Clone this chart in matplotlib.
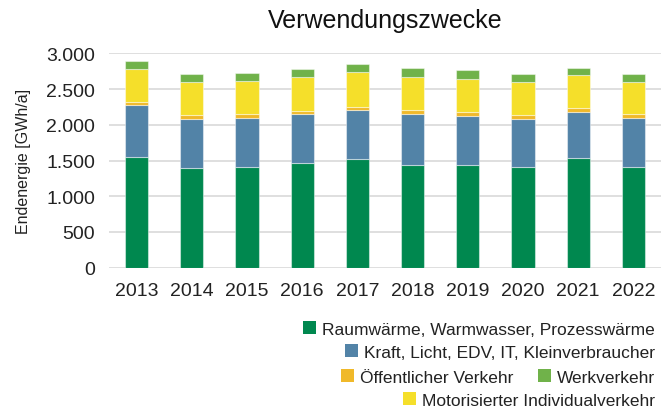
import matplotlib
matplotlib.use("Agg")
import matplotlib.pyplot as plt
import matplotlib.ticker as mticker
import numpy as np

plt.rcParams['font.family'] = ['Liberation Sans', 'DejaVu Sans']

years = ["2013", "2014", "2015", "2016", "2017", "2018", "2019", "2020", "2021", "2022"]
raumwaerme = [1553, 1399, 1413, 1469, 1516, 1441, 1441, 1413, 1530, 1413]
kraft = [718, 685, 685, 676, 694, 704, 676, 671, 648, 681]
oeffentlich = [51, 52, 47, 51, 42, 56, 56, 47, 51, 51]
motorisiert = [457, 457, 470, 475, 489, 470, 470, 470, 466, 456]
werkverkehr = [108, 120, 112, 108, 108, 118, 118, 104, 102, 112]

series = [
    ("Raumwärme, Warmwasser, Prozesswärme", raumwaerme, "#00884F"),
    ("Kraft, Licht, EDV, IT, Kleinverbraucher", kraft, "#5283A7"),
    ("Öffentlicher Verkehr", oeffentlich, "#F0B92A"),
    ("Motorisierter Individualverkehr", motorisiert, "#F5DF2A"),
    ("Werkverkehr", werkverkehr, "#70B24A"),
]

fig = plt.figure(figsize=(6.7, 4.1), dpi=100)
ax = fig.add_axes([109/670, 1 - 268.7/410, (661-109)/670, (268.7-54.3)/410])

x = np.arange(len(years))
bottom = np.zeros(len(years))
handles = {}
for name, vals, col in series:
    vals = np.array(vals, dtype=float)
    b = ax.bar(x, vals, bottom=bottom, width=0.42, color=col,
               edgecolor=(1, 1, 1, 0.45), linewidth=0.8, zorder=3, label=name)
    handles[name] = b
    bottom += vals

ax.set_xlim(-0.5, len(years) - 0.5)
ax.set_ylim(0, 3000)
ax.set_yticks(np.arange(0, 3001, 500))
ax.yaxis.set_major_formatter(mticker.FuncFormatter(lambda v, p: f"{int(v):,}".replace(",", ".")))
ax.set_xticks(x)
ax.set_xticklabels(years)
ax.tick_params(axis='both', length=0, labelsize=14, colors="#222222")
ax.tick_params(axis='y', pad=10)
ax.tick_params(axis='x', pad=10)
ax.grid(axis='y', color="#D9D9D9", linewidth=1.2, zorder=0)
for s in ax.spines.values():
    s.set_visible(False)

ax.set_ylabel("Endenergie [GWh/a]", fontsize=11.5, color="#222222", labelpad=11)
fig.text(385/670, 1 - 21/410, "Verwendungszwecke", fontsize=18, ha='center', va='center', color="#111111")

# legend rows (right aligned)
rows = [
    (["Raumwärme, Warmwasser, Prozesswärme"], 330),
    (["Kraft, Licht, EDV, IT, Kleinverbraucher"], 353),
    (["Öffentlicher Verkehr", "Werkverkehr"], 378),
    (["Motorisierter Individualverkehr"], 401),
]
for names, ypx in rows:
    leg = fig.legend([handles[n] for n in names], names, loc='center right',
                     bbox_to_anchor=(655/670, 1 - ypx/410), ncol=len(names),
                     frameon=False, fontsize=12.5, handlelength=0.75, handleheight=0.75,
                     handletextpad=0.35, columnspacing=1.4, borderpad=0, borderaxespad=0)
    for t in leg.get_texts():
        t.set_color("#222222")
    for h in leg.legend_handles:
        h.set_edgecolor("none")

fig.savefig("out.png", dpi=100)
